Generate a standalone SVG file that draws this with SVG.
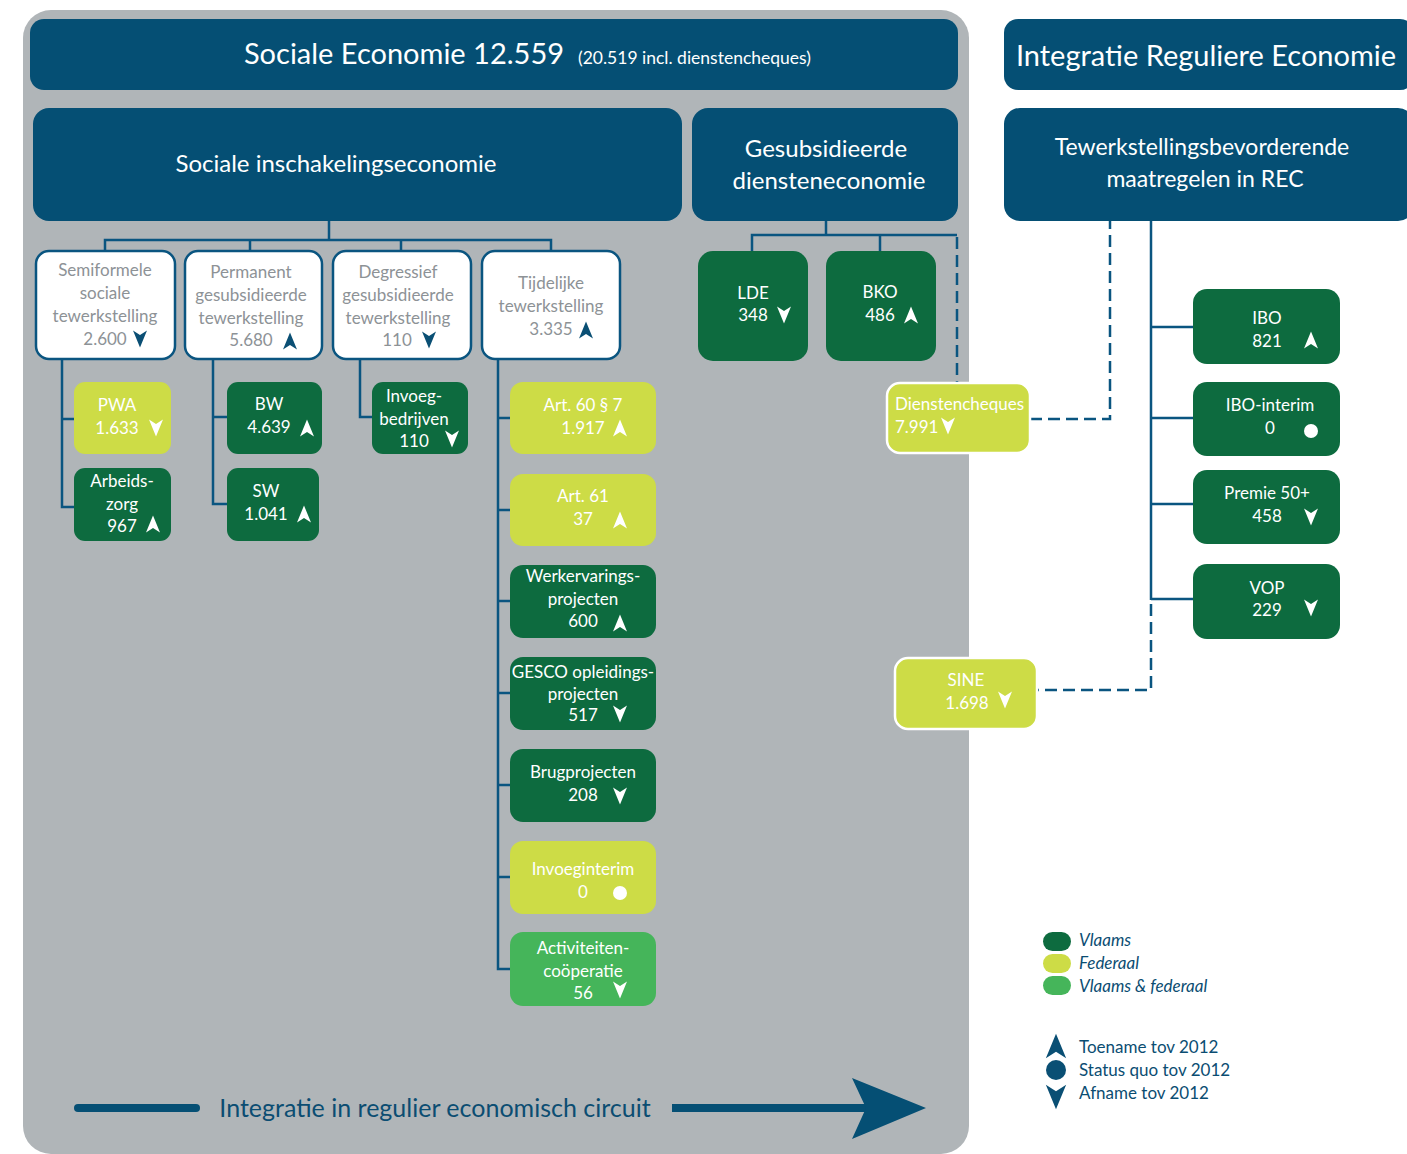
<svg xmlns="http://www.w3.org/2000/svg" xmlns:xlink="http://www.w3.org/1999/xlink" width="1407" height="1154" viewBox="0 0 1407 1154">
<style>
text{font-family:Lato,"Open Sans","Liberation Sans",sans-serif}
.hdr{fill:#054f74}
.wbox{fill:#ffffff;stroke:#0a5580;stroke-width:2.5}
.dg{fill:#0d6b3f}
.yg{fill:#cddc46}
.lg{fill:#45b55a}
.wedge{stroke:#ffffff;stroke-width:2.5}
.ht{fill:#ffffff;text-anchor:middle}
.gt{fill:#8d9296;font-size:17px;text-anchor:middle}
.nt{fill:#ffffff;font-size:17px;text-anchor:middle}
.lt{fill:#0b4d72;font-size:17px}
.con{fill:none;stroke:#0a5580;stroke-width:2.5}
.dash{stroke-dasharray:12 6}
.ab{fill:#0a4f74}
.aw{fill:#ffffff}
</style>
<defs>
<path id="up" d="M0,-8.5 L7,8.5 L0,4 L-7,8.5 Z"/>
<path id="dn" d="M0,8.5 L7,-8.5 L0,-4 L-7,-8.5 Z"/>
</defs>

<rect x="23" y="10" width="946" height="1144" rx="28" fill="#b0b5b8"/>

<g id="connectors">
<path class="con" d="M329,221 V240 M105,251 V240 H551 V251 M250,240 V251 M401,240 V251"/>
<path class="con" d="M62,359 V507 H74 M62,419 H74"/>
<path class="con" d="M213,359 V504 H227 M213,417 H227"/>
<path class="con" d="M360,359 V417 H372"/>
<path class="con" d="M498,359 V969 H510 M498,418 H510 M498,510 H510 M498,601 H510 M498,693 H510 M498,785 H510 M498,877 H510"/>
<path class="con" d="M826,221 V235 M752,251 V235 H957 M880,235 V251"/>
<path class="con dash" d="M957,237 V383"/>
<path class="con dash" d="M1030,419 H1110 V221"/>
<path class="con" d="M1151,221 V600 M1151,327 H1193 M1151,418 H1193 M1151,504 H1193 M1151,599 H1193"/>
<path class="con dash" d="M1151,604 V690 H1037"/>
</g>

<g id="hdr-se">
<rect class="hdr" x="30" y="19" width="928" height="71" rx="14"/>
<text x="404" y="64" class="ht" font-size="29">Sociale Economie 12.559</text>
<text x="578" y="64" fill="#ffffff" font-size="17.5">(20.519 incl. dienstencheques)</text>
</g>
<g id="hdr-ire">
<rect class="hdr" x="1004" y="19" width="410" height="71" rx="14"/>
<text x="1206" y="66" class="ht" font-size="29">Integratie Reguliere Economie</text>
</g>
<g id="hdr-sie">
<rect class="hdr" x="33" y="108" width="649" height="113" rx="16"/>
<text x="336" y="172" class="ht" font-size="24">Sociale inschakelingseconomie</text>
</g>
<g id="hdr-gde">
<rect class="hdr" x="692" y="108" width="266" height="113" rx="16"/>
<text x="826" y="157" class="ht" font-size="24">Gesubsidieerde</text>
<text x="829" y="189" class="ht" font-size="24">diensteneconomie</text>
</g>
<g id="hdr-tbm">
<rect class="hdr" x="1004" y="108" width="410" height="113" rx="16"/>
<text x="1202" y="155" class="ht" font-size="23">Tewerkstellingsbevorderende</text>
<text x="1205" y="187" class="ht" font-size="23">maatregelen in REC</text>
</g>

<g id="n-semi">
<rect class="wbox" x="36" y="251" width="139" height="108" rx="13"/>
<text class="gt" x="105" y="276">Semiformele</text>
<text class="gt" x="105" y="299">sociale</text>
<text class="gt" x="105" y="322">tewerkstelling</text>
<text class="gt" x="105" y="345">2.600</text>
<use xlink:href="#dn" x="140" y="339" class="ab"/>
</g>
<g id="n-perm">
<rect class="wbox" x="185" y="251" width="137" height="108" rx="13"/>
<text class="gt" x="251" y="278">Permanent</text>
<text class="gt" x="251" y="301">gesubsidieerde</text>
<text class="gt" x="251" y="324">tewerkstelling</text>
<text class="gt" x="251" y="346">5.680</text>
<use xlink:href="#up" x="290" y="341" class="ab"/>
</g>
<g id="n-degr">
<rect class="wbox" x="333" y="251" width="138" height="108" rx="13"/>
<text class="gt" x="398" y="278">Degressief</text>
<text class="gt" x="398" y="301">gesubsidieerde</text>
<text class="gt" x="398" y="324">tewerkstelling</text>
<text class="gt" x="397" y="346">110</text>
<use xlink:href="#dn" x="429" y="340" class="ab"/>
</g>
<g id="n-tijd">
<rect class="wbox" x="482" y="251" width="138" height="108" rx="13"/>
<text class="gt" x="551" y="289">Tijdelijke</text>
<text class="gt" x="551" y="312">tewerkstelling</text>
<text class="gt" x="551" y="335">3.335</text>
<use xlink:href="#up" x="586" y="330" class="ab"/>
</g>

<g id="n-pwa">
<rect class="yg" x="74" y="382" width="97" height="72" rx="11"/>
<text class="nt" x="117" y="411">PWA</text>
<text class="nt" x="117" y="434">1.633</text>
<use xlink:href="#dn" x="156" y="428" class="aw"/>
</g>
<g id="n-arbeidszorg">
<rect class="dg" x="74" y="468" width="97" height="73" rx="11"/>
<text class="nt" x="122" y="487">Arbeids-</text>
<text class="nt" x="122" y="510">zorg</text>
<text class="nt" x="122" y="532">967</text>
<use xlink:href="#up" x="153" y="524" class="aw"/>
</g>
<g id="n-bw">
<rect class="dg" x="227" y="382" width="95" height="72" rx="11"/>
<text class="nt" x="269" y="410">BW</text>
<text class="nt" x="269" y="433">4.639</text>
<use xlink:href="#up" x="307" y="428" class="aw"/>
</g>
<g id="n-sw">
<rect class="dg" x="227" y="468" width="92" height="73" rx="11"/>
<text class="nt" x="266" y="497">SW</text>
<text class="nt" x="266" y="520">1.041</text>
<use xlink:href="#up" x="304" y="514" class="aw"/>
</g>
<g id="n-invoegbedrijven">
<rect class="dg" x="372" y="382" width="96" height="72" rx="11"/>
<text class="nt" x="414" y="402">Invoeg-</text>
<text class="nt" x="414" y="425">bedrijven</text>
<text class="nt" x="414" y="447">110</text>
<use xlink:href="#dn" x="452" y="439" class="aw"/>
</g>

<g id="n-art60">
<rect class="yg" x="510" y="382" width="146" height="72" rx="13"/>
<text class="nt" x="583" y="411">Art. 60 § 7</text>
<text class="nt" x="583" y="434">1.917</text>
<use xlink:href="#up" x="620" y="428" class="aw"/>
</g>
<g id="n-art61">
<rect class="yg" x="510" y="474" width="146" height="72" rx="13"/>
<text class="nt" x="583" y="502">Art. 61</text>
<text class="nt" x="583" y="525">37</text>
<use xlink:href="#up" x="620" y="520" class="aw"/>
</g>
<g id="n-wep">
<rect class="dg" x="510" y="565" width="146" height="73" rx="13"/>
<text class="nt" x="583" y="582">Werkervarings-</text>
<text class="nt" x="583" y="605">projecten</text>
<text class="nt" x="583" y="627">600</text>
<use xlink:href="#up" x="620" y="623" class="aw"/>
</g>
<g id="n-gesco">
<rect class="dg" x="510" y="657" width="146" height="73" rx="13"/>
<text class="nt" x="583" y="678" font-size="16.5">GESCO opleidings-</text>
<text class="nt" x="583" y="700">projecten</text>
<text class="nt" x="583" y="721">517</text>
<use xlink:href="#dn" x="620" y="714" class="aw"/>
</g>
<g id="n-brug">
<rect class="dg" x="510" y="749" width="146" height="73" rx="13"/>
<text class="nt" x="583" y="778">Brugprojecten</text>
<text class="nt" x="583" y="801">208</text>
<use xlink:href="#dn" x="620" y="796" class="aw"/>
</g>
<g id="n-invoeginterim">
<rect class="yg" x="510" y="841" width="146" height="73" rx="13"/>
<text class="nt" x="583" y="875">Invoeginterim</text>
<text class="nt" x="583" y="898">0</text>
<circle cx="620" cy="893" r="7" class="aw"/>
</g>
<g id="n-activiteiten">
<rect class="lg" x="510" y="932" width="146" height="74" rx="13"/>
<text class="nt" x="583" y="954">Activiteiten-</text>
<text class="nt" x="583" y="977">coöperatie</text>
<text class="nt" x="583" y="999">56</text>
<use xlink:href="#dn" x="620" y="990" class="aw"/>
</g>

<g id="n-lde">
<rect class="dg" x="698" y="251" width="110" height="110" rx="15"/>
<text class="nt" x="753" y="299">LDE</text>
<text class="nt" x="753" y="321">348</text>
<use xlink:href="#dn" x="784" y="315" class="aw"/>
</g>
<g id="n-bko">
<rect class="dg" x="826" y="251" width="110" height="110" rx="15"/>
<text class="nt" x="880" y="298">BKO</text>
<text class="nt" x="880" y="321">486</text>
<use xlink:href="#up" x="911" y="315" class="aw"/>
</g>
<g id="n-dienstencheques">
<rect class="yg wedge" x="887" y="383" width="143" height="70" rx="13"/>
<text class="nt" x="895" y="410" style="text-anchor:start" font-size="15.5">Dienstencheques</text>
<text class="nt" x="895" y="433" style="text-anchor:start" font-size="16">7.991</text>
<use xlink:href="#dn" x="948" y="426" class="aw"/>
</g>
<g id="n-sine">
<rect class="yg wedge" x="895" y="658" width="142" height="71" rx="13"/>
<text class="nt" x="966" y="686">SINE</text>
<text class="nt" x="967" y="709">1.698</text>
<use xlink:href="#dn" x="1005" y="700" class="aw"/>
</g>

<g id="n-ibo">
<rect class="dg" x="1193" y="289" width="147" height="75" rx="14"/>
<text class="nt" x="1267" y="324">IBO</text>
<text class="nt" x="1267" y="347">821</text>
<use xlink:href="#up" x="1311" y="340" class="aw"/>
</g>
<g id="n-ibointerim">
<rect class="dg" x="1193" y="382" width="147" height="74" rx="14"/>
<text class="nt" x="1270" y="411">IBO-interim</text>
<text class="nt" x="1270" y="434">0</text>
<circle cx="1311" cy="431" r="7" class="aw"/>
</g>
<g id="n-premie">
<rect class="dg" x="1193" y="470" width="147" height="74" rx="14"/>
<text class="nt" x="1267" y="499">Premie 50+</text>
<text class="nt" x="1267" y="522">458</text>
<use xlink:href="#dn" x="1311" y="517" class="aw"/>
</g>
<g id="n-vop">
<rect class="dg" x="1193" y="564" width="147" height="75" rx="14"/>
<text class="nt" x="1267" y="594">VOP</text>
<text class="nt" x="1267" y="616">229</text>
<use xlink:href="#dn" x="1311" y="608" class="aw"/>
</g>

<g id="legend">
<rect x="1043" y="932" width="28" height="19" rx="9.5" class="dg"/>
<rect x="1043" y="954" width="28" height="19" rx="9.5" class="yg"/>
<rect x="1043" y="976" width="28" height="19" rx="9.5" class="lg"/>
<text class="lt" x="1079" y="946" font-style="italic">Vlaams</text>
<text class="lt" x="1079" y="969" font-style="italic">Federaal</text>
<text class="lt" x="1079" y="992" font-style="italic">Vlaams &amp; federaal</text>
<use xlink:href="#up" transform="translate(1056,1046) scale(1.45)" class="ab"/>
<circle cx="1056" cy="1070" r="10" class="ab"/>
<use xlink:href="#dn" transform="translate(1056,1097) scale(1.45)" class="ab"/>
<text class="lt" x="1079" y="1053">Toename tov 2012</text>
<text class="lt" x="1079" y="1076">Status quo tov 2012</text>
<text class="lt" x="1079" y="1099">Afname tov 2012</text>
</g>

<g id="bottom-arrow">
<line x1="78" y1="1108" x2="196" y2="1108" stroke="#054f74" stroke-width="8" stroke-linecap="round"/>
<text x="435" y="1117" fill="#0b4d72" font-size="25" text-anchor="middle">Integratie in regulier economisch circuit</text>
<line x1="672" y1="1108" x2="880" y2="1108" stroke="#054f74" stroke-width="8"/>
<path d="M852,1078 L926,1108 L852,1139 L866,1108 Z" fill="#054f74"/>
</g>
</svg>
